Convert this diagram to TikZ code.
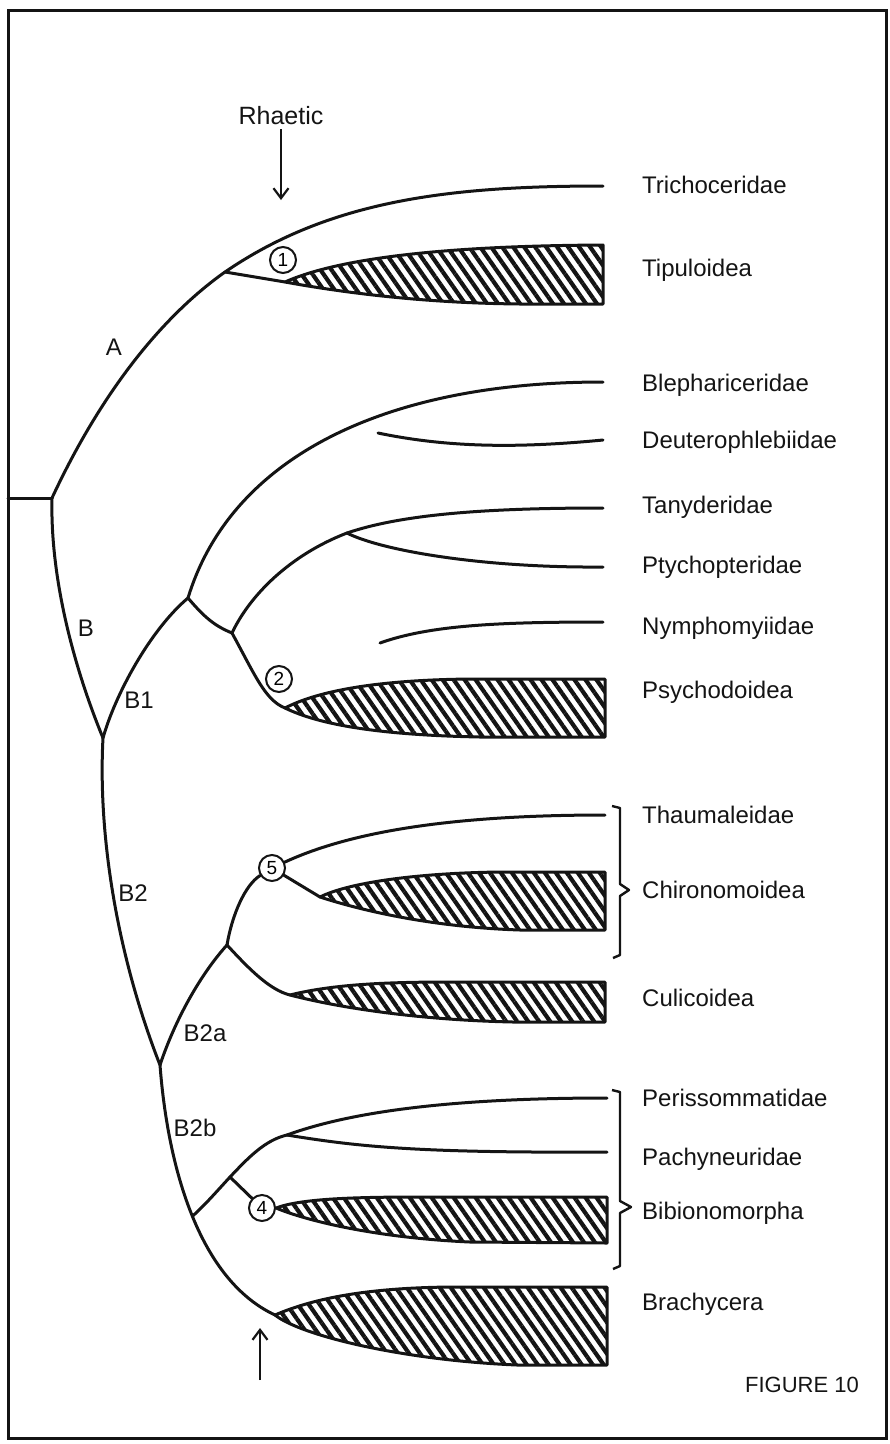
\documentclass[tikz,border=0pt]{standalone}
\usepackage{fontspec}
\setmainfont{Liberation Sans}
\usepackage{tikz}
\usetikzlibrary{arrows.meta, calc, patterns.meta}
\definecolor{ink}{HTML}{141414}
\tikzset{
  brline/.style     = {draw=ink, line width=3pt, line cap=round, line join=round},
  hatchwedge/.style = {draw=ink, line width=3pt, line join=round,
                       pattern={Lines[angle=-55, distance=9pt, line width=4.2pt]},
                       pattern color=ink},
  taxlab/.style     = {anchor=west, font=\fontsize{24}{28}\selectfont, text=ink,
                       inner sep=0pt, text height=17pt, text depth=0pt},
  cladelab/.style   = {font=\fontsize{24}{28}\selectfont, text=ink, inner sep=0pt},
  ringno/.style     = {circle, draw=ink, fill=white, line width=2pt,
                       minimum size=26pt, inner sep=0pt, font=\fontsize{19}{19}\selectfont},
  timearrow/.style  = {-{Straight Barb[length=10pt, width=15pt]}, draw=ink, line width=2.2pt},
  brace/.style      = {draw=ink, line width=2.4pt, line join=round},
}

\begin{document}
\begin{tikzpicture}[x=1pt, y=-1pt]
  \useasboundingbox (0,0) rectangle (890,1444);
  \draw[draw=ink, line width=3pt] (8,10) rectangle (886,1438);
  % junctions and branch ends
  \coordinate (stub) at (8,498);
  \coordinate (R) at (52,498);
  \coordinate (jA) at (225,272);
  \coordinate (tTri) at (603,186);
  \coordinate (tip1) at (285,282);
  \coordinate (jB) at (103,738);
  \coordinate (jB1) at (188,598);
  \coordinate (tBle) at (603,382);
  \coordinate (sDeu) at (378,433);
  \coordinate (tDeu) at (603,440);
  \coordinate (j2) at (232,633);
  \coordinate (jT) at (347,533);
  \coordinate (tTan) at (603,508);
  \coordinate (tPty) at (603,567);
  \coordinate (sNym) at (380,643);
  \coordinate (tNym) at (603,622);
  \coordinate (tip2) at (285,708);
  \coordinate (jB2) at (160,1065);
  \coordinate (j5a) at (227,945);
  \coordinate (tTha) at (605,815);
  \coordinate (tip5) at (320,897);
  \coordinate (tipCu) at (290,995);
  \coordinate (tipBr) at (275,1315);
  \coordinate (j4) at (230,1177);
  \coordinate (jP) at (287,1135);
  \coordinate (tPer) at (607,1098);
  \coordinate (tPac) at (607,1152);
  \coordinate (rhA) at (281,200);
  \coordinate (upA) at (260,1328);
  \coordinate (upB) at (260,1380);
  % numbered rings
  \node[ringno] (c1) at (283,260) {1};
  \node[ringno] (c2) at (279,679) {2};
  \node[ringno] (c5) at (272,868) {5};
  \node[ringno] (c4) at (262,1208) {4};
  % A side
  \draw[brline] (stub) -- (R);
  \draw[brline] (R) .. controls (100,395) and (160,318) .. (jA) .. controls (330,200) and (450,186) .. (tTri);
  \draw[brline] (jA) -- (tip1);
  % B side
  \draw[brline] (R) .. controls (50,580) and (75,670) .. (jB);
  \draw[brline] (jB) .. controls (115,695) and (150,630) .. (jB1);
  \draw[brline] (jB1) .. controls (230,460) and (380,382) .. (tBle);
  \draw[brline] (sDeu) .. controls (450,448) and (520,448) .. (tDeu);
  \draw[brline] (jB1) .. controls (205,618) and (215,626) .. (j2);
  \draw[brline] (j2) .. controls (250,595) and (290,555) .. (jT);
  \draw[brline] (jT) .. controls (400,515) and (480,508) .. (tTan);
  \draw[brline] (jT) .. controls (380,550) and (480,568) .. (tPty);
  \draw[brline] (sNym) .. controls (430,625) and (500,622) .. (tNym);
  \draw[brline] (j2) .. controls (255,675) and (265,700) .. (tip2);
  % B2
  \draw[brline] (jB) .. controls (98,830) and (115,950) .. (jB2);
  \draw[brline] (jB2) .. controls (168,1170) and (200,1280) .. (tipBr) coordinate[pos=0.5] (jBb);
  \draw[brline] (jB2) .. controls (175,1020) and (200,975) .. (j5a);
  \draw[brline] (j5a) .. controls (232,915) and (245,885) .. (c5);
  \draw[brline] (c5) .. controls (350,832) and (450,815) .. (tTha);
  \draw[brline] (c5) -- (tip5);
  \draw[brline] (j5a) .. controls (250,970) and (270,990) .. (tipCu);
  \draw[brline] (jBb) .. controls (205,1205) and (218,1190) .. (j4) .. controls (248,1158) and (265,1140) .. (jP);
  \draw[brline] (jP) .. controls (350,1112) and (450,1098) .. (tPer);
  \draw[brline] (jP) .. controls (360,1147) and (420,1153) .. (tPac);
  \draw[brline] (j4) -- (c4);
  % hatched groups
  \draw[hatchwedge] (tip1) .. controls (330,262) and (420,246) .. (603,245) -- (603,304) -- (520,304) .. controls (420,303) and (340,292) .. (tip1) -- cycle;
  \draw[hatchwedge] (tip2) .. controls (320,690) and (380,680) .. (470,679) -- (605,679) -- (605,737) -- (480,737) .. controls (380,735) and (320,725) .. (tip2) -- cycle;
  \draw[hatchwedge] (tip5) .. controls (350,882) and (420,873) .. (500,872) -- (605,872) -- (605,930) -- (520,930) .. controls (430,927) and (360,910) .. (tip5) -- cycle;
  \draw[hatchwedge] (tipCu) .. controls (330,985) and (380,982) .. (450,982) -- (605,982) -- (605,1022) -- (513,1022) .. controls (420,1020) and (340,1008) .. (tipCu) -- cycle;
  \draw[hatchwedge] (c4.east) .. controls (300,1199) and (350,1197) .. (420,1197) -- (607,1197) -- (607,1243) -- (470,1242) .. controls (380,1238) and (310,1222) .. (c4.east) -- cycle;
  \draw[hatchwedge] (tipBr) .. controls (310,1300) and (360,1288) .. (450,1287) -- (607,1287) -- (607,1365) -- (517,1365) .. controls (400,1360) and (300,1335) .. (tipBr) -- cycle;
  % braces
  \draw[brace] (612,806) -- (620,808) -- (620,884) -- (629,890) -- (620,896) -- (620,955) -- (613,958);
  \draw[brace] (612,1090) -- (620,1092) -- (620,1201) -- (631,1207) -- (620,1213) -- (620,1266) -- (613,1269);
  % time marks
  \node[cladelab, font=\fontsize{25}{28}\selectfont] (rhaetic) at (281,116) {Rhaetic};
  \draw[timearrow, shorten <=4pt] (rhaetic) -- (rhA);
  \draw[timearrow] (upB) -- (upA);
  % clade letters
  \node[cladelab] (labA) at (114,347) {A};
  \node[cladelab] (labB) at (86,628) {B};
  \node[cladelab] (labB1) at (139,700) {B1};
  \node[cladelab] (labB2) at (133,893) {B2};
  \node[cladelab] (labB2a) at (205,1033) {B2a};
  \node[cladelab] (labB2b) at (195,1128) {B2b};
  % taxa
  \node[taxlab] (nTri) at (642,185) {Trichoceridae};
  \node[taxlab] (nTip) at (642,268) {Tipuloidea};
  \node[taxlab] (nBle) at (642,383) {Blephariceridae};
  \node[taxlab] (nDeu) at (642,440) {Deuterophlebiidae};
  \node[taxlab] (nTan) at (642,505) {Tanyderidae};
  \node[taxlab] (nPty) at (642,565) {Ptychopteridae};
  \node[taxlab] (nNym) at (642,626) {Nymphomyiidae};
  \node[taxlab] (nPsy) at (642,690) {Psychodoidea};
  \node[taxlab] (nTha) at (642,815) {Thaumaleidae};
  \node[taxlab] (nChi) at (642,890) {Chironomoidea};
  \node[taxlab] (nCul) at (642,998) {Culicoidea};
  \node[taxlab] (nPer) at (642,1098) {Perissommatidae};
  \node[taxlab] (nPac) at (642,1157) {Pachyneuridae};
  \node[taxlab] (nBib) at (642,1211) {Bibionomorpha};
  \node[taxlab] (nBra) at (642,1302) {Brachycera};
  \node[cladelab, font=\fontsize{22}{26}\selectfont] (fig) at (802,1385) {FIGURE 10};
\end{tikzpicture}
\end{document}
